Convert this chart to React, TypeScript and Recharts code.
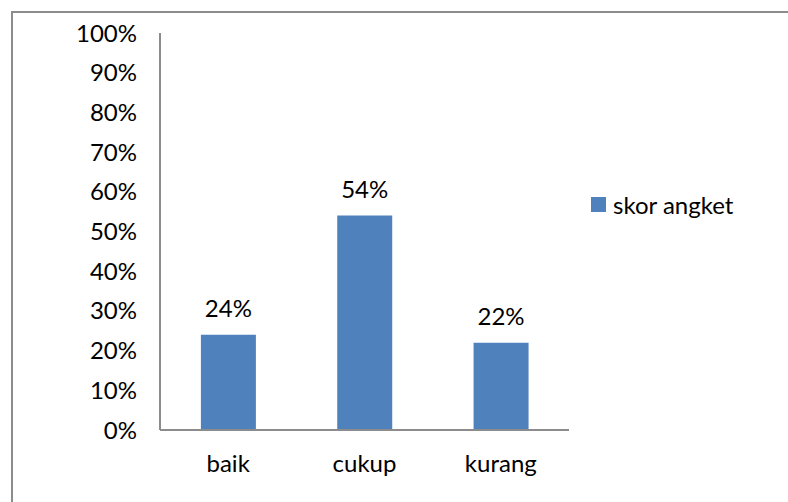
import React from "react";
import { BarChart, Bar, XAxis, YAxis, Legend, LabelList } from "recharts";

const categories = ["baik", "cukup", "kurang"];
const skorAngket = [0.24, 0.54, 0.22];
const yTicks = [0, 0.1, 0.2, 0.3, 0.4, 0.5, 0.6, 0.7, 0.8, 0.9, 1];
const seriesName = "skor angket";

const data = categories.map((c, i) => ({ name: c, value: skorAngket[i] }));

const FONT = "Lato, 'Noto Sans', sans-serif";
const BAR = "#4F81BD";
const AXIS = "#8c8c8c";

const pct = (v: number) => `${Math.round(v * 100)}%`;

const renderLegend = (props: any) => {
  const { payload } = props;
  return (
    <div>
      {(payload || []).map((p: any, i: number) => (
        <div key={i} style={{ display: "flex", alignItems: "center", fontFamily: FONT, fontSize: 24, color: "#000", whiteSpace: "nowrap" }}>
          <span style={{ display: "inline-block", width: 15, height: 15, background: p.color, marginRight: 7 }} />
          <span>{p.value}</span>
        </div>
      ))}
    </div>
  );
};

export default function App() {
  return (
    <div style={{ position: "absolute", left: 0, top: 0, width: 788, height: 502, background: "#fff" }}>
      <div style={{ position: "absolute", left: 11, top: 11, right: 0, bottom: 0, borderLeft: `2px solid ${AXIS}`, borderTop: `2px solid ${AXIS}` }} />
      <div style={{ position: "absolute", left: 0, top: 0 }}>
        <BarChart width={788} height={502} data={data} margin={{ top: 33, right: 29, bottom: 0, left: 0 }} barCategoryGap="30%">
          <XAxis
            dataKey="name"
            axisLine={{ stroke: AXIS, strokeWidth: 2 }}
            tickLine={false}
            tickSize={0}
            tickMargin={25}
            tick={{ fill: "#000", fontSize: 24, fontFamily: FONT }}
            height={72}
          />
          <YAxis
            domain={[0, 1]}
            ticks={yTicks}
            interval={0}
            tickFormatter={pct}
            axisLine={{ stroke: AXIS, strokeWidth: 2 }}
            tickLine={false}
            tickSize={0}
            tickMargin={23}
            width={160}
            tick={{ fill: "#000", fontSize: 24, fontFamily: FONT }}
          />
          <Legend
            layout="vertical"
            verticalAlign="top"
            align="right"
            content={renderLegend}
            wrapperStyle={{ left: 591, top: 190, width: 190, right: "auto" }}
          />
          <Bar dataKey="value" name={seriesName} fill={BAR} isAnimationActive={false}>
            <LabelList dataKey="value" position="top" offset={18} formatter={(v: any) => pct(Number(v))} style={{ fill: "#000", fontSize: 24, fontFamily: FONT }} />
          </Bar>
        </BarChart>
      </div>
    </div>
  );
}
